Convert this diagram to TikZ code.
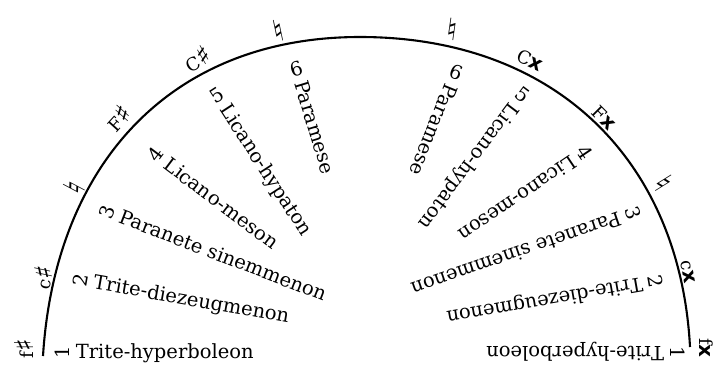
\documentclass[tikz,border=0pt]{standalone}
\usepackage{fontspec}
\setmainfont{DejaVu Serif}
\newfontfamily\symf{DejaVu Sans}
\usepackage{graphicx}
\newcommand\rnum[1]{\rotatebox{90}{#1}}
\newcommand\shp{{\symf\fontsize{26}{26}\selectfont ♯}}
\newcommand\dshp{{\symf\bfseries\fontsize{20}{20}\selectfont x}}
\newcommand\nat{{\symf\fontsize{30}{30}\selectfont ♮}}
\begin{document}
\begin{tikzpicture}[x=1pt,y=-1pt,
  lbl/.style={anchor=base west, inner sep=0pt, font=\fontsize{19.5}{22}\selectfont},
  note/.style={inner sep=0pt, font=\fontsize{18}{20}\selectfont}]
\useasboundingbox (0,0) rectangle (719,369);
\coordinate (a0) at (43,356);
\coordinate (a1) at (360,37);
\coordinate (a2) at (690,347);
\draw[line width=2.1pt] (a0) .. controls (55,165) and (170,37) .. (a1)
  .. controls (555,37) and (680,160) .. (a2);
% left note names
\node[note, rotate=90] (n1) at (24,349) {f\shp};
\node[note, rotate=78] (n2) at (43,277) {c\shp};
\node[note, rotate=62] (n3) at (74,188) {\nat};
\node[note, rotate=48] (n4) at (118,118) {F\shp};
\node[note, rotate=30] (n5) at (197,59) {C\shp};
\node[note, rotate=12] (n6) at (278,31) {\nat};
% right note names
\node[note, rotate=-8] (m6) at (452,29) {\nat};
\node[note, rotate=-25] (m5) at (530,60) {C\dshp};
\node[note, rotate=-45] (m4) at (604,118) {F\dshp};
\node[note, rotate=-58] (m3) at (664,183) {\nat};
\node[note, rotate=-80] (m2) at (688,272) {c\dshp};
\node[note, rotate=-90] (m1) at (706,348) {f\dshp};
% left labels
\node[lbl, rotate=0]   (l1) at (55,358)  {\rnum{1} Trite-hyperboleon};
\node[lbl, rotate=-10] (l2) at (72,285)  {\rnum{2} Trite-diezeugmenon};
\node[lbl, rotate=-21] (l3) at (98,215)  {\rnum{3} Paranete sinemmenon};
\node[lbl, rotate=-37] (l4) at (146,155) {\rnum{4} Licano-meson};
\node[lbl, rotate=-57] (l5) at (208,92)  {\rnum{5} Licano-hypaton};
\node[lbl, rotate=-73] (l6) at (288,63)  {\rnum{6} Paramese};
% right labels
\node[lbl, rotate=180]  (r1) at (685,346) {\rnum{1} Trite-hyperboleon};
\node[lbl, rotate=190]  (r2) at (662,274) {\rnum{2} Trite-diezeugmenon};
\node[lbl, rotate=199]  (r3) at (638,205) {\rnum{3} Paranete sinemmenon};
\node[lbl, rotate=214]  (r4) at (588,143) {\rnum{4} Licano-meson};
\node[lbl, rotate=233]  (r5) at (522,85)  {\rnum{5} Licano-hypaton};
\node[lbl, rotate=248]  (r6) at (453,63)  {\rnum{6} Paramese};
\end{tikzpicture}
\end{document}
